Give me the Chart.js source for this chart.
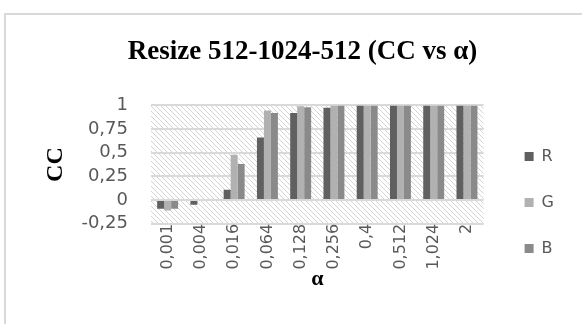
<!DOCTYPE html>
<html>
<head>
<meta charset="utf-8">
<script src="https://cdn.jsdelivr.net/npm/chart.js@4.4.1/dist/chart.umd.min.js"></script>
<style>
  html, body { margin: 0; padding: 0; background: #fff; overflow: hidden; }
  #marco { position: absolute; left: 4px; top: 13px; width: 700px; height: 400px;
           border-left: 2px solid #d9d9d9; border-top: 2px solid #d9d9d9; }
  #grafico { position: absolute; left: 0; top: 0; }
</style>
</head>
<body>
<div id="marco"></div>
<canvas id="grafico" width="582" height="324"></canvas>
<script>
// Datos
const categorias = ['0,001', '0,004', '0,016', '0,064', '0,128', '0,256', '0,4', '0,512', '1,024', '2'];
const valoresR = [-0.09, -0.05, 0.11, 0.66, 0.92, 0.975, 1, 1, 1, 1];
const valoresG = [-0.11, 0, 0.48, 0.945, 0.99, 1, 1, 1, 1, 1];
const valoresB = [-0.09, -0.01, 0.38, 0.92, 0.98, 1, 1, 1, 1, 1];
const etiquetasY = ['-0,25', '0', '0,25', '0,5', '0,75', '1'];

const gris = '#595959';

// Patron rayado del area de trazado
function crearRayado() {
    const c = document.createElement('canvas');
    c.width = 5;
    c.height = 5;
    const cx = c.getContext('2d');
    cx.fillStyle = '#ffffff';
    cx.fillRect(0, 0, 5, 5);
    cx.strokeStyle = '#d4d4d4';
    cx.lineWidth = 1;
    [-5, 0, 5].forEach(d => {
        cx.beginPath();
        cx.moveTo(d, 0);
        cx.lineTo(d + 5, 5);
        cx.stroke();
    });
    return c;
}

const fondoRayado = {
    id: 'fondoRayado',
    beforeDraw(chart) {
        const { ctx, chartArea } = chart;
        ctx.save();
        ctx.fillStyle = ctx.createPattern(crearRayado(), 'repeat');
        ctx.fillRect(chartArea.left, chartArea.top, chartArea.right - chartArea.left, chartArea.bottom - chartArea.top);
        ctx.restore();
    }
};

Chart.defaults.font.family = 'DejaVu Sans';
Chart.defaults.color = gris;

const ctx = document.getElementById('grafico').getContext('2d');
new Chart(ctx, {
    type: 'bar',
    data: {
        labels: categorias,
        datasets: [
            { label: 'R', data: valoresR, backgroundColor: '#606060' },
            { label: 'G', data: valoresG, backgroundColor: '#b1b1b1' },
            { label: 'B', data: valoresB, backgroundColor: '#8a8a8a' }
        ]
    },
    options: {
        responsive: false,
        animation: false,
        events: [],
        datasets: {
            bar: { categoryPercentage: 0.63, barPercentage: 1 }
        },
        layout: {
            padding: { left: 41, right: 18, top: 30, bottom: 31 }
        },
        plugins: {
            title: {
                display: true,
                text: 'Resize 512-1024-512 (CC vs α)',
                color: '#000',
                font: { family: 'Liberation Serif', size: 27, weight: 'bold' },
                padding: { top: 6, bottom: 37 }
            },
            legend: {
                position: 'right',
                // titulo vacio solo para bajar las entradas
                title: {
                    display: true,
                    text: ' ',
                    font: { size: 10 },
                    padding: { top: 0, bottom: 70 }
                },
                labels: {
                    boxWidth: 9,
                    boxHeight: 9,
                    padding: 30,
                    color: gris,
                    font: { size: 16 }
                }
            },
            tooltip: { enabled: false }
        },
        scales: {
            x: {
                grid: { display: false, drawTicks: false },
                border: { display: false },
                ticks: {
                    autoSkip: false,
                    minRotation: 90,
                    maxRotation: 90,
                    padding: 0,
                    color: gris,
                    font: { size: 16 }
                },
                title: {
                    display: true,
                    text: 'α',
                    color: '#000',
                    font: { family: 'Liberation Serif', size: 22, weight: 'bold' },
                    padding: { top: -3, bottom: 0 }
                }
            },
            y: {
                min: -0.25,
                max: 1,
                afterFit: escala => { escala.width = 110; },
                grid: { color: '#d9d9d9', lineWidth: 2, drawTicks: false },
                border: { display: false },
                ticks: {
                    autoSkip: false,
                    stepSize: 0.25,
                    padding: 23,
                    color: gris,
                    font: { size: 18 },
                    callback: (valor, i) => etiquetasY[i]
                },
                title: {
                    display: true,
                    text: 'CC',
                    color: '#000',
                    font: { family: 'Liberation Serif', size: 24, weight: 'bold' },
                    padding: { top: 0, bottom: 0 }
                }
            },
            // eje vacio para separar la leyenda del area de trazado
            hueco: {
                position: 'right',
                display: true,
                afterFit: escala => { escala.width = 11; },
                grid: { display: false, drawTicks: false },
                border: { display: false },
                ticks: { display: false }
            }
        }
    },
    plugins: [fondoRayado]
});
</script>
</body>
</html>
